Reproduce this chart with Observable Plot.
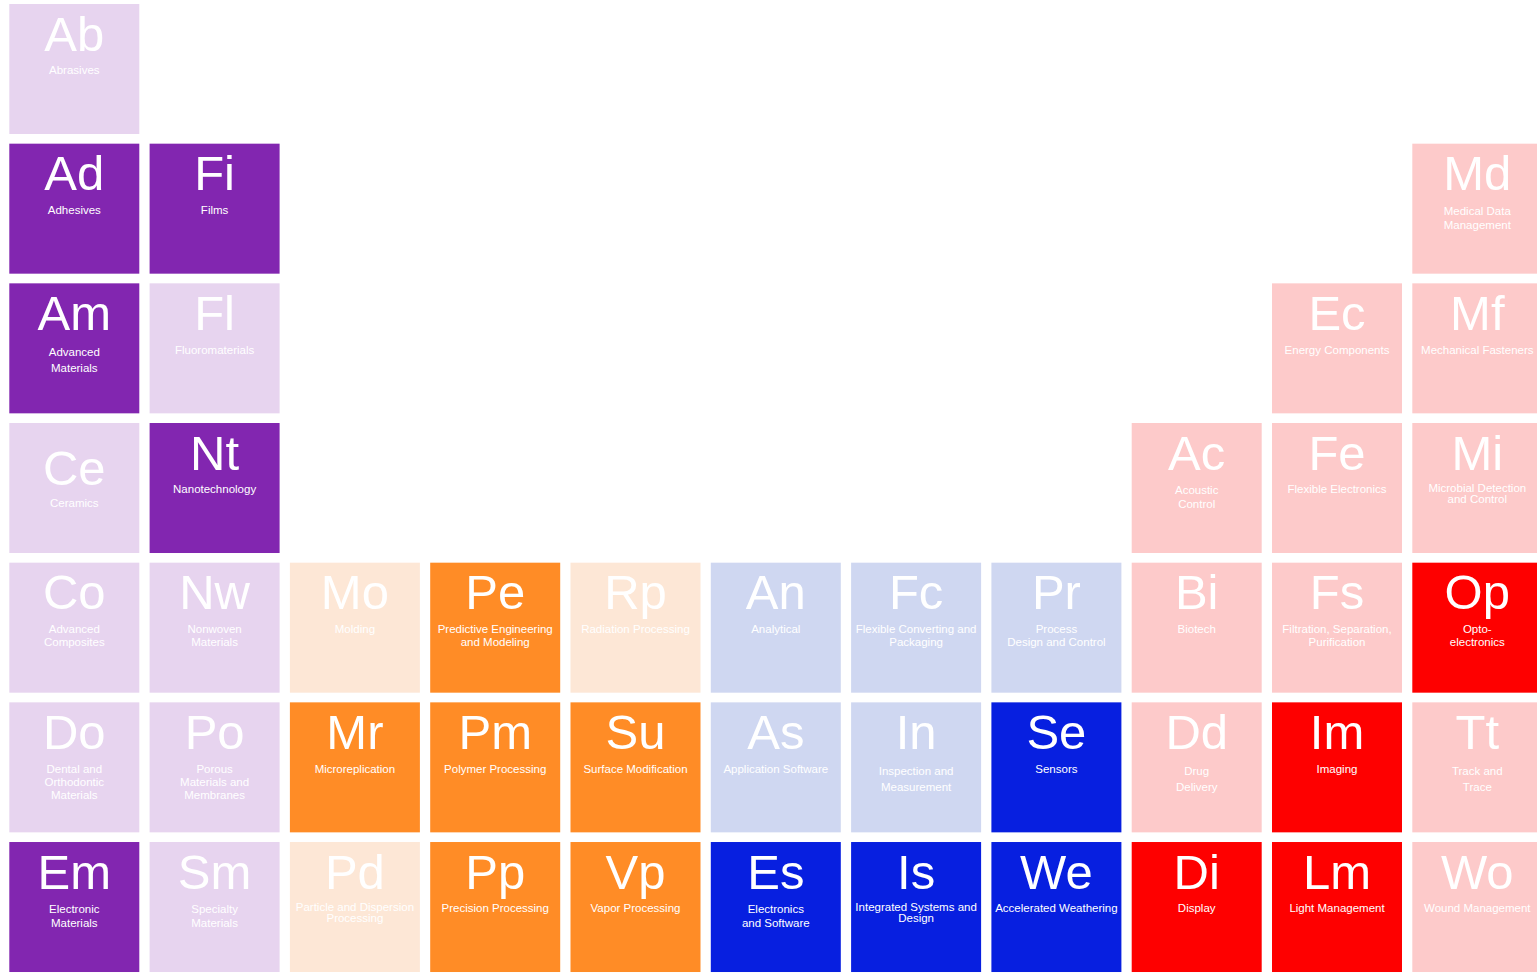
<!DOCTYPE html>
<html>
<head>
<meta charset="utf-8">
<script src="https://cdn.jsdelivr.net/npm/d3@7"></script>
<script src="https://cdn.jsdelivr.net/npm/@observablehq/plot@0.6"></script>
<style>
  html, body { margin: 0; padding: 0; background: #ffffff; overflow: hidden; }
  #chart svg { display: block; overflow: visible; }
</style>
</head>
<body>
<div id="chart"></div>
<script>
// ---- data ----
const symbols = ["Ab","Ad","Fi","Md","Am","Fl","Ec","Mf","Ce","Nt","Ac","Fe","Mi",
  "Co","Nw","Mo","Pe","Rp","An","Fc","Pr","Bi","Fs","Op",
  "Do","Po","Mr","Pm","Su","As","In","Se","Dd","Im","Tt",
  "Em","Sm","Pd","Pp","Vp","Es","Is","We","Di","Lm","Wo"];
const names = ["Abrasives","Adhesives","Films","Medical Data\nManagement",
  "Advanced\nMaterials","Fluoromaterials","Energy Components","Mechanical Fasteners",
  "Ceramics","Nanotechnology","Acoustic\nControl","Flexible Electronics","Microbial Detection\nand Control",
  "Advanced\nComposites","Nonwoven\nMaterials","Molding","Predictive Engineering\nand Modeling","Radiation Processing",
  "Analytical","Flexible Converting and\nPackaging","Process\nDesign and Control","Biotech","Filtration, Separation,\nPurification","Opto-\nelectronics",
  "Dental and\nOrthodontic\nMaterials","Porous\nMaterials and\nMembranes","Microreplication","Polymer Processing","Surface Modification",
  "Application Software","Inspection and\nMeasurement","Sensors","Drug\nDelivery","Imaging","Track and\nTrace",
  "Electronic\nMaterials","Specialty\nMaterials","Particle and Dispersion\nProcessing","Precision Processing","Vapor Processing",
  "Electronics\nand Software","Integrated Systems and\nDesign","Accelerated Weathering","Display","Light Management","Wound Management"];
const cols = [0, 0,1,10, 0,1,9,10, 0,1,8,9,10,
  0,1,2,3,4,5,6,7,8,9,10,
  0,1,2,3,4,5,6,7,8,9,10,
  0,1,2,3,4,5,6,7,8,9,10];
const rows = [0, 1,1,1, 2,2,2,2, 3,3,3,3,3,
  4,4,4,4,4,4,4,4,4,4,4,
  5,5,5,5,5,5,5,5,5,5,5,
  6,6,6,6,6,6,6,6,6,6,6];
const families = ["materials","materials","materials","applications",
  "materials","materials","applications","applications",
  "materials","materials","applications","applications","applications",
  "materials","materials","processes","processes","processes","capabilities","capabilities","capabilities","applications","applications","applications",
  "materials","materials","processes","processes","processes","capabilities","capabilities","capabilities","applications","applications","applications",
  "materials","materials","processes","processes","processes","capabilities","capabilities","capabilities","applications","applications","applications"];
const highlighted = [false, true,true,false, true,false,false,false, false,true,false,false,false,
  false,false,false,true,false,false,false,false,false,false,true,
  false,false,true,true,true,false,false,true,false,true,false,
  true,false,false,true,true,true,true,true,true,true,false];

const tiles = symbols.map((s, i) => ({
  symbol: s, name: names[i], col: cols[i], row: rows[i],
  family: families[i], on: highlighted[i]
}));

// ---- styles ----
const palette = {
  materials:    {on: "#8226B0", off: "#E7D4EF"},
  processes:    {on: "#FF8C26", off: "#FDE7D6"},
  capabilities: {on: "#071FE0", off: "#CFD7F1"},
  applications: {on: "#FE0000", off: "#FDCACA"}
};
const symbolNudge = {Ce: 15};
const labelNudge = {Ce: 14};
const lineGap = {Am: 16, In: 16, Dd: 16, Tt: 16, Md: 14, Ac: 14, Es: 14, Em: 14, Sm: 14, Mi: 11, Pd: 11, Is: 11};
const font = "'Liberation Sans', Arial, Helvetica, sans-serif";
const labelSize = 11.5;

const plot = Plot.plot({
  width: 1537,
  height: 974,
  margin: 0,
  style: {fontFamily: font, background: "white"},
  x: {domain: [0, 11], range: [9.3, 9.3 + 11 * 140.3], axis: null},
  y: {domain: [0, 7], range: [4, 4 + 7 * 139.67], axis: null},
  color: {type: "identity"},
  marks: [
    Plot.rect(tiles, {
      x1: "col", x2: d => d.col + 1,
      y1: "row", y2: d => d.row + 1,
      insetRight: 10.3, insetBottom: 9.67,
      fill: d => palette[d.family][d.on ? "on" : "off"]
    }),
    ...tiles.map(d => Plot.text([d], {
      x: t => t.col + 0.5, y: "row",
      dx: -5.65, dy: 46 + (symbolNudge[d.symbol] ?? 0),
      text: "symbol", fill: "white", fontSize: 49,
      textAnchor: "middle", lineAnchor: "bottom", fontFamily: font
    })),
    ...tiles.map(d => Plot.text([d], {
      x: t => t.col + 0.5, y: "row",
      dx: -5.65, dy: 60.5 + (labelNudge[d.symbol] ?? 0),
      text: "name", fill: "white", fontSize: labelSize,
      lineHeight: (lineGap[d.symbol] ?? 13) / labelSize,
      textAnchor: "middle", lineAnchor: "top", fontFamily: font
    }))
  ]
});
document.getElementById("chart").appendChild(plot);
</script>
</body>
</html>
